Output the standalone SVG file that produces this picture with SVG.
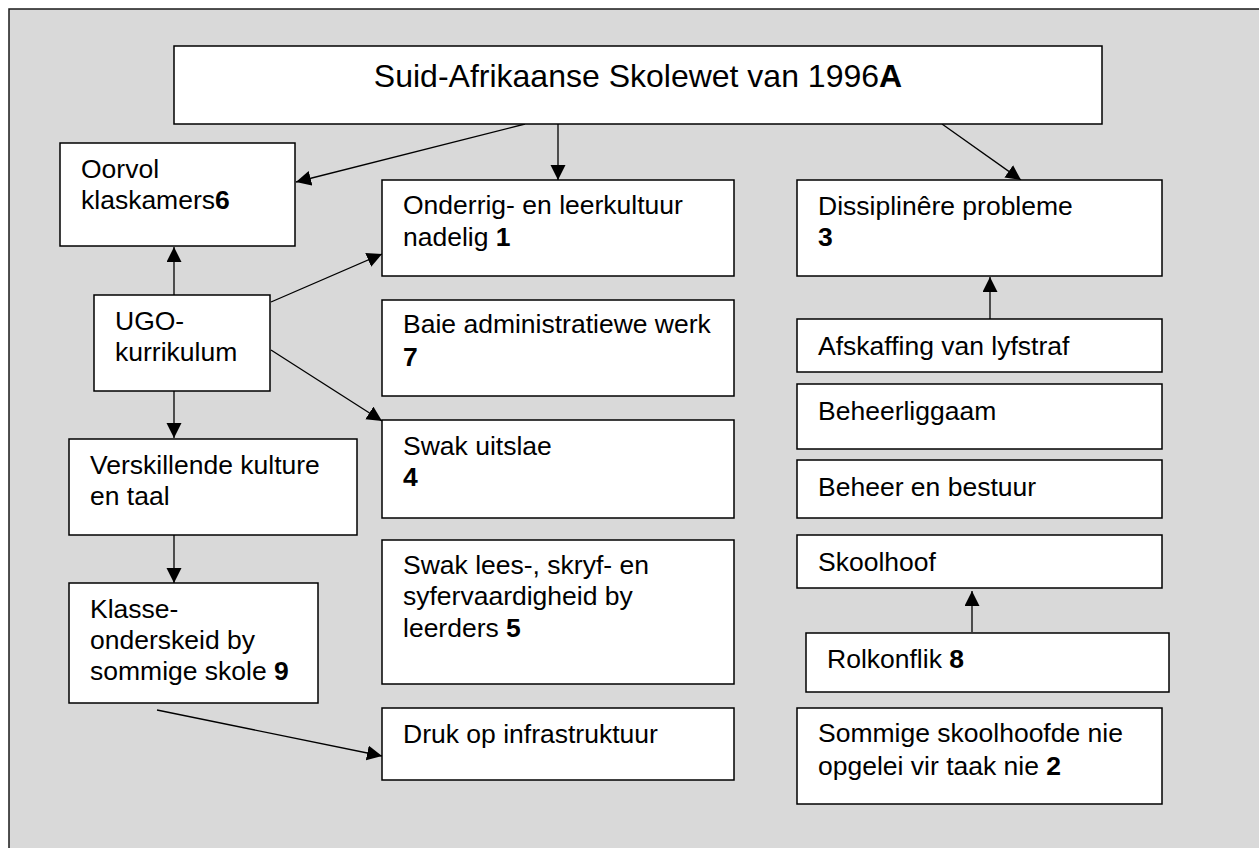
<svg xmlns="http://www.w3.org/2000/svg" width="1259" height="848" viewBox="0 0 1259 848">
  <style>
    .frame { fill: #d9d9d9; stroke: #1a1a1a; stroke-width: 1.5; }
    .box { fill: #ffffff; stroke: #000000; stroke-width: 1.5; }
    .t { font-family: "Liberation Sans", Arial, sans-serif; font-size: 26.5px; fill: #000000; }
    .title { font-family: "Liberation Sans", Arial, sans-serif; font-size: 32px; fill: #000000; }
    .b { font-weight: bold; }
    .link { stroke: #000000; stroke-width: 1.3; fill: none; marker-end: url(#head); }
  </style>
  <defs>
    <marker id="head" markerUnits="userSpaceOnUse" markerWidth="16" markerHeight="16" refX="15" refY="7.5" orient="auto">
      <path d="M0,0 L15,7.5 L0,15 Z" fill="#000000"/>
    </marker>
  </defs>

  <rect width="1259" height="848" fill="#ffffff"/>
  <rect class="frame" x="9" y="9" width="1300" height="900"/>

  <g id="connectors">
    <line class="link" x1="525" y1="124" x2="296" y2="182"/>
    <line class="link" x1="558" y1="124" x2="558" y2="180"/>
    <line class="link" x1="942" y1="124" x2="1021" y2="180"/>
    <line class="link" x1="174" y1="295" x2="174" y2="247"/>
    <line class="link" x1="271" y1="302" x2="382" y2="254"/>
    <line class="link" x1="271" y1="350" x2="382" y2="421"/>
    <line class="link" x1="174" y1="391" x2="174" y2="438"/>
    <line class="link" x1="174" y1="535" x2="174" y2="583"/>
    <line class="link" x1="157" y1="710" x2="382" y2="756"/>
    <line class="link" x1="990" y1="319" x2="990" y2="277"/>
    <line class="link" x1="972" y1="632" x2="972" y2="591"/>
  </g>

  <g id="skolewet">
    <rect class="box" x="174" y="46" width="928" height="78"/>
    <text class="title" x="638" y="87" text-anchor="middle">Suid-Afrikaanse Skolewet van 1996<tspan class="b">A</tspan></text>
  </g>

  <g id="oorvol">
    <rect class="box" x="60" y="143" width="235" height="103"/>
    <text class="t" x="81" y="178">Oorvol</text>
    <text class="t" x="81" y="209">klaskamers<tspan class="b">6</tspan></text>
  </g>

  <g id="onderrig">
    <rect class="box" x="382" y="180" width="352" height="96"/>
    <text class="t" x="403" y="214">Onderrig- en leerkultuur</text>
    <text class="t" x="403" y="246">nadelig <tspan class="b">1</tspan></text>
  </g>

  <g id="dissipline">
    <rect class="box" x="797" y="180" width="365" height="96"/>
    <text class="t" x="818" y="215">Dissiplinêre probleme</text>
    <text class="t" x="818" y="246"><tspan class="b">3</tspan></text>
  </g>

  <g id="ugo">
    <rect class="box" x="94" y="295" width="176" height="96"/>
    <text class="t" x="115" y="330">UGO-</text>
    <text class="t" x="115" y="361">kurrikulum</text>
  </g>

  <g id="administrasie">
    <rect class="box" x="382" y="300" width="352" height="96"/>
    <text class="t" x="403" y="333">Baie administratiewe werk</text>
    <text class="t" x="403" y="366"><tspan class="b">7</tspan></text>
  </g>

  <g id="lyfstraf">
    <rect class="box" x="797" y="319" width="365" height="53"/>
    <text class="t" x="818" y="355">Afskaffing van lyfstraf</text>
  </g>

  <g id="beheerliggaam">
    <rect class="box" x="797" y="384" width="365" height="65"/>
    <text class="t" x="818" y="420">Beheerliggaam</text>
  </g>

  <g id="uitslae">
    <rect class="box" x="382" y="420" width="352" height="98"/>
    <text class="t" x="403" y="455">Swak uitslae</text>
    <text class="t" x="403" y="486"><tspan class="b">4</tspan></text>
  </g>

  <g id="kulture">
    <rect class="box" x="69" y="439" width="288" height="96"/>
    <text class="t" x="90" y="474">Verskillende kulture</text>
    <text class="t" x="90" y="505">en taal</text>
  </g>

  <g id="bestuur">
    <rect class="box" x="797" y="460" width="365" height="58"/>
    <text class="t" x="818" y="496">Beheer en bestuur</text>
  </g>

  <g id="skoolhoof">
    <rect class="box" x="797" y="535" width="365" height="53"/>
    <text class="t" x="818" y="571">Skoolhoof</text>
  </g>

  <g id="vaardighede">
    <rect class="box" x="382" y="540" width="352" height="144"/>
    <text class="t" x="403" y="574">Swak lees-, skryf- en</text>
    <text class="t" x="403" y="605">syfervaardigheid by</text>
    <text class="t" x="403" y="637">leerders <tspan class="b">5</tspan></text>
  </g>

  <g id="klasse">
    <rect class="box" x="69" y="583" width="249" height="120"/>
    <text class="t" x="90" y="618">Klasse-</text>
    <text class="t" x="90" y="649">onderskeid by</text>
    <text class="t" x="90" y="680">sommige skole <tspan class="b">9</tspan></text>
  </g>

  <g id="rolkonflik">
    <rect class="box" x="806" y="633" width="363" height="59"/>
    <text class="t" x="827" y="668">Rolkonflik <tspan class="b">8</tspan></text>
  </g>

  <g id="infrastruktuur">
    <rect class="box" x="382" y="708" width="352" height="72"/>
    <text class="t" x="403" y="743">Druk op infrastruktuur</text>
  </g>

  <g id="opleiding">
    <rect class="box" x="797" y="708" width="365" height="96"/>
    <text class="t" x="818" y="742">Sommige skoolhoofde nie</text>
    <text class="t" x="818" y="775">opgelei vir taak nie <tspan class="b">2</tspan></text>
  </g>
</svg>
